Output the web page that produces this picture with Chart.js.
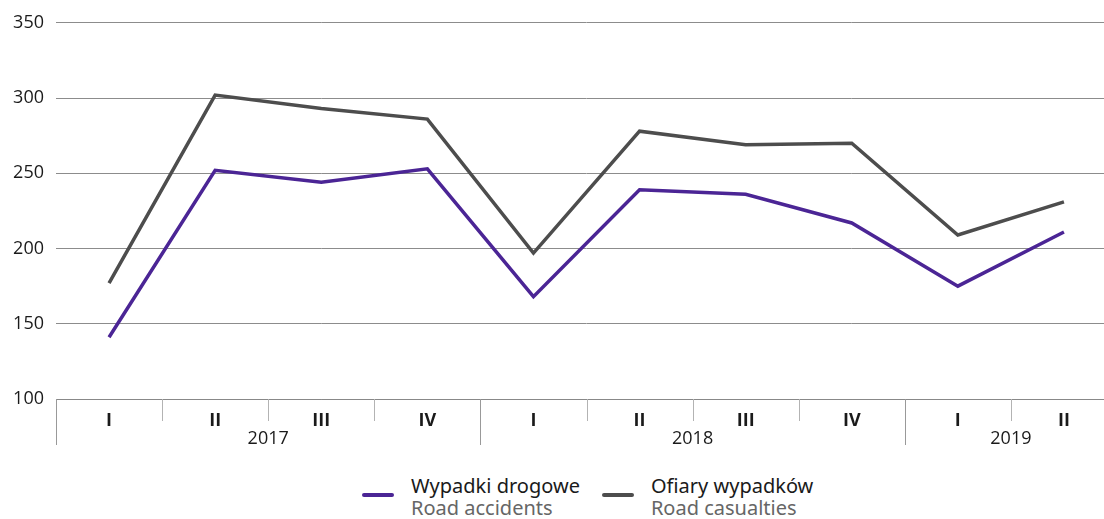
<!DOCTYPE html>
<html>
<head>
<meta charset="utf-8">
<script src="https://cdn.jsdelivr.net/npm/chart.js@4/dist/chart.umd.min.js"></script>
<style>
  body { margin: 0; background: #fff; overflow: hidden; }
  .wrap { position: relative; width: 1120px; height: 519px; }
  .legend { position: absolute; top: 475px; left: 362px; display: flex; font-family: 'Noto Sans', sans-serif; font-size: 20px; line-height: 22px; }
  .item { display: flex; align-items: flex-start; margin-right: 22px; }
  .swatch { width: 32px; height: 4px; border-radius: 2px; margin-right: 17px; margin-top: 18px; }
  .pl { color: #1a1a1a; }
  .en { color: #666; }
</style>
</head>
<body>
<div class="wrap">
  <canvas id="chart" width="1120" height="455"></canvas>
  <div class="legend" id="legend"></div>
</div>
<script>
// data
const quarters = ['I', 'II', 'III', 'IV', 'I', 'II', 'III', 'IV', 'I', 'II'];
const years = ['2017', '2018', '2019'];
const quartersPerYear = [4, 4, 2];
const accidents = [141, 252, 244, 253, 168, 239, 236, 217, 175, 211];
const casualties = [177, 302, 293, 286, 197, 278, 269, 270, 209, 231];
const yTicks = [100, 150, 200, 250, 300, 350];

const purple = '#4b2595';
const grey = '#4d4d4d';

// year row + separators under the x axis
const yearAxis = {
  id: 'yearAxis',
  afterDraw(chart) {
    const ctx = chart.ctx;
    const x = chart.scales.x;
    const top = x.top;
    ctx.save();
    ctx.lineWidth = 1;
    // short separators between quarters
    let start = 0;
    const yearStarts = [];
    quartersPerYear.forEach(n => { yearStarts.push(start); start += n; });
    yearStarts.push(start);
    for (let i = 0; i <= quarters.length; i++) {
      const px = Math.round(x.getPixelForValue(i - 0.5)) + 0.5;
      const long = yearStarts.includes(i);
      ctx.strokeStyle = long ? '#999' : '#b3b3b3';
      ctx.beginPath();
      ctx.moveTo(px, top);
      ctx.lineTo(px, top + (long ? 46 : 22));
      ctx.stroke();
    }
    // year labels
    ctx.fillStyle = '#1a1a1a';
    ctx.font = '18px "Open Sans"';
    ctx.textAlign = 'center';
    ctx.textBaseline = 'middle';
    years.forEach((y, k) => {
      const mid = (yearStarts[k] + yearStarts[k + 1] - 1) / 2;
      ctx.fillText(y, x.getPixelForValue(mid), top + 40);
    });
    ctx.restore();
  }
};

const ctx = document.getElementById('chart').getContext('2d');
const myChart = new Chart(ctx, {
  type: 'line',
  data: {
    labels: quarters,
    datasets: [{
      label: 'Wypadki drogowe|Road accidents',
      data: accidents,
      borderColor: purple,
      borderWidth: 3.5,
      pointRadius: 0,
      tension: 0
    }, {
      label: 'Ofiary wypadków|Road casualties',
      data: casualties,
      borderColor: grey,
      borderWidth: 3.5,
      pointRadius: 0,
      tension: 0
    }]
  },
  options: {
    responsive: false,
    animation: false,
    layout: { padding: { top: 10, right: 3, bottom: 10, left: 0 } },
    plugins: {
      legend: { display: false },
      tooltip: { enabled: false }
    },
    scales: {
      x: {
        offset: true,
        afterFit(s) { s.height = 46; },
        grid: { display: false },
        border: { display: true, color: '#888', width: 1 },
        ticks: {
          color: '#1a1a1a',
          padding: 3,
          autoSkip: false,
          maxRotation: 0,
          font: { family: 'Open Sans', size: 18, weight: 'bold' }
        }
      },
      y: {
        min: 100,
        max: 350,
        afterFit(s) { s.width = 56; },
        afterBuildTicks(s) { s.ticks = yTicks.map(v => ({ value: v })); },
        border: { display: false },
        grid: { color: '#8c8c8c', lineWidth: 1, drawTicks: false },
        ticks: {
          color: '#1a1a1a',
          padding: 12,
          font: { family: 'Open Sans', size: 18 }
        }
      }
    }
  },
  plugins: [yearAxis]
});

// legend built from the datasets
const legend = document.getElementById('legend');
myChart.data.datasets.forEach(ds => {
  const parts = ds.label.split('|');
  const item = document.createElement('div');
  item.className = 'item';
  item.innerHTML = '<div class="swatch" style="background:' + ds.borderColor + '"></div>' +
    '<div><div class="pl">' + parts[0] + '</div><div class="en">' + parts[1] + '</div></div>';
  legend.appendChild(item);
});
</script>
</body>
</html>
